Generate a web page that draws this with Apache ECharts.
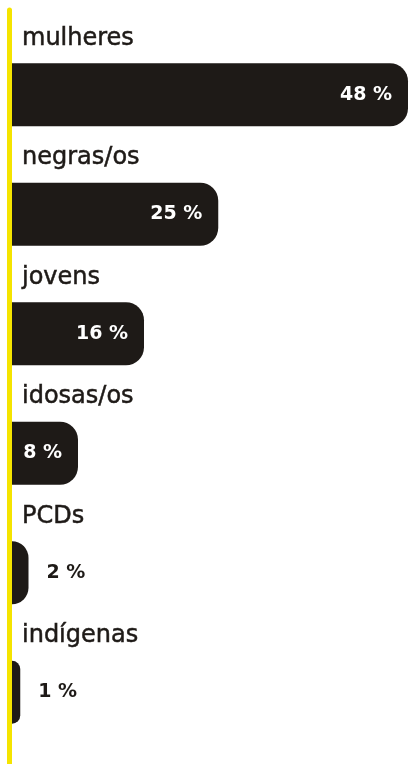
<!DOCTYPE html>
<html>
<head>
<meta charset="utf-8">
<style>
  html, body { margin: 0; padding: 0; background: #ffffff; }
  #chart { width: 409px; height: 764px; }
</style>
<script src="https://cdn.jsdelivr.net/npm/echarts@6/dist/echarts.min.js"></script>
</head>
<body>
<div id="chart"></div>
<script>
const categories = ['mulheres', 'negras/os', 'jovens', 'idosas/os', 'PCDs', 'indígenas'];
const values = [48, 25, 16, 8, 2, 1];
const valueLabels = ['48 %', '25 %', '16 %', '8 %', '2 %', '1 %'];

const BAR = '#1e1a17';
const YELLOW = '#f5e400';
const TEXT = '#1e1a17';

const chart = echarts.init(document.getElementById('chart'));

const data = values.map((v, i) => {
  const item = { value: v };
  if (v < 5) {
    item.label = { position: 'right', distance: 18, color: TEXT };
  }
  return item;
});

chart.setOption({
  animation: false,
  backgroundColor: '#ffffff',
  grid: [
    { left: 12, right: 1, top: 35, bottom: 12, containLabel: false },
    { left: 9.5, width: 1, top: 10, bottom: 0 }
  ],
  xAxis: [
    { type: 'value', min: 0, max: 48, show: false, gridIndex: 0 },
    { type: 'value', min: 0, max: 1, show: false, gridIndex: 1 }
  ],
  yAxis: [
    {
      type: 'category',
      gridIndex: 0,
      data: categories,
      inverse: true,
      axisLine: { show: false },
      axisTick: { show: false },
      splitLine: { show: false },
      axisLabel: {
        inside: true,
        margin: 10,
        verticalAlign: 'bottom',
        lineHeight: 28,
        padding: [0, 0, 42, 0],
        fontFamily: 'DejaVu Sans',
        fontSize: 24,
        color: TEXT,
        textBorderColor: TEXT,
        textBorderWidth: 0.5
      }
    },
    {
      type: 'value',
      gridIndex: 1,
      min: 0,
      max: 1,
      axisLine: { show: true, lineStyle: { color: YELLOW, width: 5 } },
      axisTick: { show: false },
      axisLabel: { show: false },
      splitLine: { show: false }
    }
  ],
  series: [
    {
      type: 'bar',
      xAxisIndex: 0,
      yAxisIndex: 0,
      data: data,
      barWidth: 63,
      itemStyle: { color: BAR, borderRadius: [0, 18, 18, 0] },
      label: {
        show: true,
        position: 'insideRight',
        distance: 16,
        color: '#ffffff',
        fontFamily: 'DejaVu Sans',
        fontWeight: 'bold',
        fontSize: 19,
        formatter: (p) => valueLabels[p.dataIndex]
      }
    }
  ]
});
</script>
</body>
</html>
